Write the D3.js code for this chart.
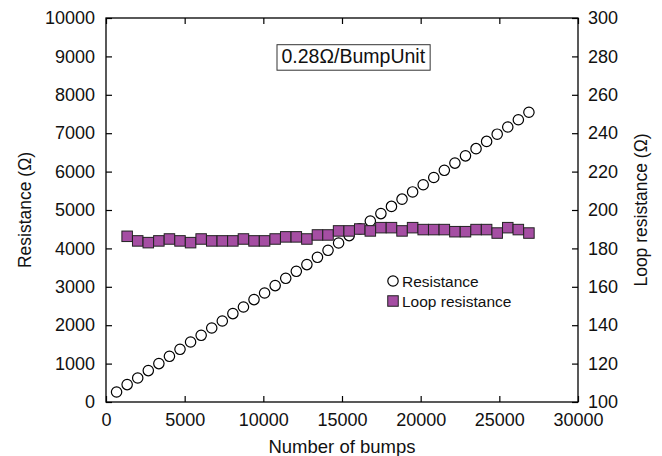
<!DOCTYPE html>
<html>
<head>
<meta charset="utf-8">
<script src="https://cdn.jsdelivr.net/npm/d3@7"></script>
<style>
  html, body { margin: 0; padding: 0; background: #fff; }
  svg { display: block; font-family: "Liberation Sans", Arial, sans-serif; }
</style>
</head>
<body>
<script>
// Datos
const bumps = [672, 1344, 2016, 2688, 3360, 4032, 4704, 5376, 6048, 6720,
  7392, 8064, 8736, 9408, 10080, 10752, 11424, 12096, 12768, 13440,
  14112, 14784, 15456, 16128, 16800, 17472, 18144, 18816, 19488, 20160,
  20832, 21504, 22176, 22848, 23520, 24192, 24864, 25536, 26208, 26880];

const resistance = [260, 453, 625, 818, 1000, 1190, 1372, 1563, 1737, 1927,
  2109, 2302, 2474, 2667, 2839, 3031, 3221, 3404, 3578, 3768,
  3951, 4141, 4333, 4510, 4714, 4906, 5094, 5282, 5470, 5658,
  5846, 6034, 6222, 6410, 6598, 6786, 6974, 7162, 7350, 7545];

// resistencia de lazo: empieza en el segundo punto
const loopBumps = bumps.slice(1);
const loopResistance = [186.3, 183.9, 183.0, 183.9, 184.9, 183.9, 183.0, 184.9, 183.9,
  183.9, 183.9, 184.9, 183.9, 183.9, 184.9, 186.0, 186.0, 184.9, 187.0,
  187.0, 189.1, 189.1, 190.1, 189.1, 190.8, 190.8, 189.1, 190.8, 189.8,
  189.8, 189.8, 188.7, 188.7, 189.8, 189.8, 188.0, 190.8, 189.8, 188.0];

const xTicks = [0, 5000, 10000, 15000, 20000, 25000, 30000];
const yLeftTicks = [0, 1000, 2000, 3000, 4000, 5000, 6000, 7000, 8000, 9000, 10000];
const yRightTicks = [100, 120, 140, 160, 180, 200, 220, 240, 260, 280, 300];

const width = 662, height = 456;
const margin = {top: 18, right: 84, bottom: 54, left: 106};

const x = d3.scaleLinear().domain([0, 30000]).range([margin.left, width - margin.right]);
const yL = d3.scaleLinear().domain([0, 10000]).range([height - margin.bottom, margin.top]);
const yR = d3.scaleLinear().domain([100, 300]).range([height - margin.bottom, margin.top]);

const purple = "#a54ea3";

const svg = d3.select("body").append("svg")
  .attr("width", width)
  .attr("height", height);

// Ejes con marcas hacia dentro
const fontSize = 18;

function styleAxis(g) {
  g.select(".domain").remove();
  g.selectAll(".tick line").attr("stroke", "#000").attr("stroke-width", 1.2);
  g.selectAll(".tick text").attr("fill", "#111").attr("font-size", fontSize)
    .attr("font-family", "Liberation Sans, Arial, sans-serif");
}

svg.append("g")
  .attr("transform", `translate(0,${height - margin.bottom})`)
  .call(d3.axisBottom(x).tickValues(xTicks).tickFormat(d3.format("d"))
    .tickSizeInner(-6).tickSizeOuter(0).tickPadding(11))
  .call(styleAxis);

svg.append("g")
  .attr("transform", `translate(0,${margin.top})`)
  .call(d3.axisTop(x).tickValues(xTicks).tickFormat("")
    .tickSizeInner(-6).tickSizeOuter(0))
  .call(styleAxis);

svg.append("g")
  .attr("transform", `translate(${margin.left},0)`)
  .call(d3.axisLeft(yL).tickValues(yLeftTicks).tickFormat(d3.format("d"))
    .tickSizeInner(-6).tickSizeOuter(0).tickPadding(11))
  .call(styleAxis);

svg.append("g")
  .attr("transform", `translate(${width - margin.right},0)`)
  .call(d3.axisRight(yR).tickValues(yRightTicks).tickFormat(d3.format("d"))
    .tickSizeInner(-6).tickSizeOuter(0).tickPadding(10))
  .call(styleAxis);

// Marco
svg.append("rect")
  .attr("x", margin.left)
  .attr("y", margin.top)
  .attr("width", width - margin.left - margin.right)
  .attr("height", height - margin.top - margin.bottom)
  .attr("fill", "none")
  .attr("stroke", "#000")
  .attr("stroke-width", 1.3);

// Resistencia (círculos)
svg.append("g")
  .selectAll("circle")
  .data(bumps.map((b, i) => [b, resistance[i]]))
  .join("circle")
  .attr("cx", d => x(d[0]))
  .attr("cy", d => yL(d[1]))
  .attr("r", 5.2)
  .attr("fill", "#fff")
  .attr("stroke", "#000")
  .attr("stroke-width", 1.2);

// Resistencia de lazo (cuadrados)
const sq = 10.5;
svg.append("g")
  .selectAll("rect")
  .data(loopBumps.map((b, i) => [b, loopResistance[i]]))
  .join("rect")
  .attr("x", d => x(d[0]) - sq / 2)
  .attr("y", d => yR(d[1]) - sq / 2)
  .attr("width", sq)
  .attr("height", sq)
  .attr("fill", purple)
  .attr("stroke", "#222")
  .attr("stroke-width", 1);

// Títulos de ejes
svg.append("text")
  .attr("x", (margin.left + width - margin.right) / 2)
  .attr("y", 453)
  .attr("text-anchor", "middle")
  .attr("font-size", 18.5)
  .attr("fill", "#111")
  .text("Number of bumps");

svg.append("text")
  .attr("transform", `translate(31,${(margin.top + height - margin.bottom) / 2}) rotate(-90)`)
  .attr("text-anchor", "middle")
  .attr("font-size", 17.5)
  .attr("fill", "#111")
  .text("Resistance (Ω)");

svg.append("text")
  .attr("transform", `translate(646.5,${(margin.top + height - margin.bottom) / 2}) rotate(-90)`)
  .attr("text-anchor", "middle")
  .attr("font-size", 17.5)
  .attr("fill", "#111")
  .text("Loop resistance (Ω)");

// Anotación
const note = svg.append("g");
const noteText = note.append("text")
  .attr("x", 281.5)
  .attr("y", 63)
  .attr("font-size", 19.5)
  .attr("fill", "#111")
  .text("0.28Ω/BumpUnit");
const bb = noteText.node().getBBox();
note.insert("rect", "text")
  .attr("x", 277)
  .attr("y", 44.7)
  .attr("width", bb.width + 9)
  .attr("height", 25.5)
  .attr("fill", "#fff")
  .attr("stroke", "#333")
  .attr("stroke-width", 1);

// Leyenda
const legend = svg.append("g").attr("transform", "translate(393,281)");
legend.append("circle")
  .attr("r", 5.2)
  .attr("fill", "#fff")
  .attr("stroke", "#000")
  .attr("stroke-width", 1.2);
legend.append("text")
  .attr("x", 9)
  .attr("y", 5.5)
  .attr("font-size", 15.5)
  .attr("fill", "#111")
  .text("Resistance");
legend.append("rect")
  .attr("x", -sq / 2)
  .attr("y", 20 - sq / 2)
  .attr("width", sq)
  .attr("height", sq)
  .attr("fill", purple)
  .attr("stroke", "#222")
  .attr("stroke-width", 1);
legend.append("text")
  .attr("x", 9)
  .attr("y", 25.5)
  .attr("font-size", 15.5)
  .attr("fill", "#111")
  .text("Loop resistance");
</script>
</body>
</html>
